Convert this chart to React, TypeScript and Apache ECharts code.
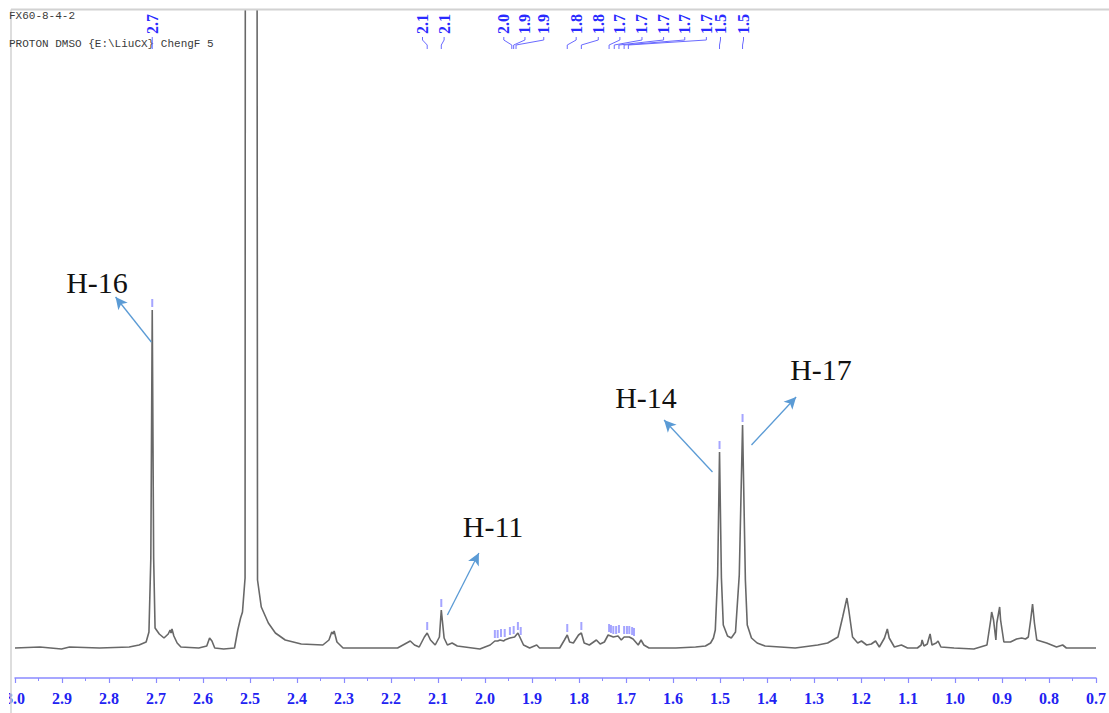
import React, { useEffect, useRef } from "react";
import * as echarts from "echarts";

// Header lines of the printout
const headerLines = ["FX60-8-4-2", "PROTON DMSO {E:\\LiuCX} ChengF 5"];

// Spectrum trace: [chemical shift (ppm), intensity]
const spectrum: [number, number][] = [
  [3.0, 0], [2.947, 1], [2.901, -1], [2.884, 1], [2.82, 0], [2.757, 1], [2.736, 3], [2.721, 6],
  [2.715, 16], [2.711, 90], [2.708, 338], [2.705, 90], [2.702, 20], [2.693, 14], [2.683, 10],
  [2.674, 14], [2.67, 18], [2.668, 15], [2.666, 19], [2.662, 12], [2.655, 5], [2.647, 1],
  [2.609, 0], [2.592, 2], [2.586, 10], [2.581, 7], [2.575, 0], [2.556, -1], [2.533, 0],
  [2.526, 18], [2.52, 30], [2.516, 36], [2.5105, 70], [2.508, 3000], [2.497, 9000], [2.4885, 3000],
  [2.484, 68], [2.476, 41], [2.461, 25], [2.446, 15], [2.425, 8], [2.391, 4], [2.345, 3],
  [2.332, 8], [2.326, 16], [2.323, 14], [2.321, 17], [2.315, 6], [2.302, 0], [2.228, 0],
  [2.186, 0], [2.159, 7], [2.15, 3], [2.14, 1], [2.129, 11], [2.123, 15], [2.116, 8], [2.106, 3],
  [2.097, 11], [2.093, 38], [2.087, 10], [2.08, 3], [2.07, 5], [2.059, 2], [2.011, -1],
  [1.989, 3], [1.979, 7], [1.973, 7], [1.968, 8], [1.96, 7], [1.958, 8], [1.947, 10], [1.937, 11],
  [1.93, 15], [1.926, 11], [1.918, 3], [1.905, 0], [1.89, 3], [1.884, 0], [1.841, 0], [1.831, 8],
  [1.825, 13], [1.82, 6], [1.812, 5], [1.801, 13], [1.795, 15], [1.789, 5], [1.778, 3], [1.763, 8],
  [1.755, 4], [1.746, 6], [1.738, 13], [1.727, 11], [1.717, 12], [1.71, 8], [1.704, 11],
  [1.693, 11], [1.685, 9], [1.674, 3], [1.668, 8], [1.662, 3], [1.651, 0], [1.594, 0], [1.552, 1],
  [1.531, 2], [1.52, 5], [1.514, 10], [1.51, 18], [1.505, 73], [1.501, 196], [1.497, 70],
  [1.493, 23], [1.484, 12], [1.476, 10], [1.467, 16], [1.459, 73], [1.452, 223], [1.446, 68],
  [1.442, 23], [1.433, 10], [1.421, 5], [1.404, 2], [1.34, 0], [1.292, 3], [1.271, 5], [1.249, 11],
  [1.239, 31], [1.23, 50], [1.226, 38], [1.218, 11], [1.207, 5], [1.199, 7], [1.188, 3],
  [1.178, 4], [1.169, 7], [1.161, 1], [1.15, 10], [1.144, 19], [1.14, 10], [1.129, 1], [1.114, 3],
  [1.101, 0], [1.08, 0], [1.072, 3], [1.07, 8], [1.066, 2], [1.059, 4], [1.053, 14], [1.049, 3],
  [1.04, 5], [1.036, 7], [1.03, 1], [1.002, 0], [0.96, -1], [0.932, 3], [0.924, 28], [0.922, 36],
  [0.918, 28], [0.913, 8], [0.911, 25], [0.905, 41], [0.903, 28], [0.896, 6], [0.882, 6],
  [0.869, 9], [0.858, 10], [0.85, 9], [0.844, 11], [0.839, 28], [0.835, 44], [0.831, 25],
  [0.826, 8], [0.805, 5], [0.784, 1], [0.771, 3], [0.763, 0], [0.7, 0],
];

// Peak-pick markers: [ppm, intensity of the picked peak]
const peakMarkers: [number, number][] = [
  [2.708, 338], [2.123, 15], [2.093, 38], [1.979, 7], [1.973, 7], [1.966, 8], [1.958, 8],
  [1.947, 10], [1.939, 11], [1.93, 15], [1.924, 10], [1.825, 13], [1.795, 15], [1.736, 13],
  [1.732, 12], [1.727, 11], [1.721, 11], [1.715, 12], [1.704, 11], [1.698, 11], [1.693, 11],
  [1.687, 10], [1.683, 9], [1.501, 196], [1.452, 223],
];

// Peak labels printed along the top
const topLabelTexts = ["2.7", "2.1", "2.1", "2.0", "1.9", "1.9", "1.8", "1.8", "1.7", "1.7", "1.7", "1.7", "1.7", "1.5", "1.5"];
const topLabelShift = [2.708, 2.133, 2.087, 1.96, 1.915, 1.875, 1.806, 1.759, 1.713, 1.666, 1.62, 1.575, 1.529, 1.499, 1.45];
const topLabelPeak = [2.708, 2.123, 2.093, 1.943, 1.939, 1.934, 1.825, 1.795, 1.736, 1.725, 1.715, 1.704, 1.695, 1.501, 1.452];

// Assignments with arrows: arrow tail and head in [ppm, intensity]
const assignNames = ["H-16", "H-11", "H-14", "H-17"];
const arrowTail: [number, number][] = [[2.71, 306], [2.08, 33], [1.516, 176], [1.433, 203]];
const arrowHead: [number, number][] = [[2.786, 351], [2.013, 95], [1.619, 228], [1.338, 251]];
const assignTextPos: [number, number][] = [[97, 282], [493, 526], [646, 397], [821, 369]];

export default function App() {
  const ref = useRef<HTMLDivElement>(null);
  useEffect(() => {
    if (!ref.current) return;
    const chart = echarts.init(ref.current, null, { renderer: "svg" });
    chart.setOption({
      animation: false,
      backgroundColor: "#ffffff",
      grid: { left: 15, right: 6, top: 10, bottom: 35 },
      xAxis: {
        type: "value",
        inverse: true,
        min: 0.7,
        max: 3.0,
        interval: 0.1,
        splitLine: { show: false },
        axisLine: { show: true, onZero: false, lineStyle: { color: "#8a8aff", width: 1.5 } },
        axisTick: { show: true, length: 5, lineStyle: { color: "#8a8aff", width: 1.2 } },
        minorTick: { show: true, splitNumber: 2, length: 3, lineStyle: { color: "#8a8aff", width: 1 } },
        axisLabel: {
          color: "#2222f2",
          fontFamily: "Liberation Serif",
          fontWeight: "bold",
          fontSize: 16,
          margin: 12,
          showMinLabel: true,
          showMaxLabel: true,
          formatter: (v: number) => v.toFixed(1),
        },
      },
      yAxis: { type: "value", min: -30, max: 638, show: false, splitLine: { show: false } },
      series: [
        {
          type: "line",
          data: spectrum,
          showSymbol: false,
          symbol: "none",
          clip: true,
          silent: true,
          lineStyle: { color: "#686868", width: 1.6 },
          markLine: {
            silent: true,
            animation: false,
            symbol: ["none", "arrow"],
            symbolSize: [9, 12],
            lineStyle: { color: "#5b9bd5", width: 1.3, type: "solid" },
            label: { show: false },
            data: arrowTail.map((t, i) => [{ coord: t }, { coord: arrowHead[i] }]),
          },
        },
        {
          type: "scatter",
          data: peakMarkers,
          symbol: "rect",
          symbolSize: [2, 8],
          symbolOffset: [0, -7],
          silent: true,
          itemStyle: { color: "#8f8fff" },
        },
      ],
    });

    const graphics: any[] = [];
    // frame lines
    graphics.push({ type: "line", z: 50, shape: { x1: 11, y1: 9.5, x2: 1109, y2: 9.5 }, style: { stroke: "#d2d2d2", lineWidth: 2 } });
    graphics.push({ type: "line", z: 50, shape: { x1: 11, y1: 9.5, x2: 11, y2: 713 }, style: { stroke: "#d2d2d2", lineWidth: 1.5 } });
    graphics.push({ type: "rect", z: 60, shape: { x: 0, y: 684, width: 9, height: 29 }, style: { fill: "#ffffff" } });
    // header
    headerLines.forEach((t, i) => {
      graphics.push({
        type: "text", z: 70, x: 9, y: i === 0 ? 16 : 44,
        style: { text: t, fill: "#3a3a3a", font: "11px 'Liberation Mono', monospace", verticalAlign: "middle", align: "left" },
      });
    });
    // top peak labels with leader lines
    topLabelTexts.forEach((t, i) => {
      const lx = chart.convertToPixel({ xAxisIndex: 0 }, topLabelShift[i]) as number;
      const px = chart.convertToPixel({ xAxisIndex: 0 }, topLabelPeak[i]) as number;
      graphics.push({
        type: "text", z: 71, x: lx, y: 24, rotation: Math.PI / 2,
        style: { text: t, fill: "#2a2aff", font: "bold 16px 'Liberation Serif', serif", align: "center", verticalAlign: "middle" },
      });
      graphics.push({
        type: "polyline", z: 71,
        shape: { points: [[lx, 37], [lx, 40], [px, 45], [px, 49]] },
        style: { stroke: "#6a6aff", lineWidth: 1, fill: null },
      });
    });
    // assignment labels
    assignNames.forEach((n, i) => {
      graphics.push({
        type: "text", z: 72, x: assignTextPos[i][0], y: assignTextPos[i][1],
        style: { text: n, fill: "#111111", font: "30px 'Liberation Serif', serif", align: "center", verticalAlign: "middle" },
      });
    });
    chart.setOption({ graphic: graphics });

    return () => chart.dispose();
  }, []);

  return <div ref={ref} style={{ position: "fixed", left: 0, top: 0, width: 1109, height: 713 }} />;
}
